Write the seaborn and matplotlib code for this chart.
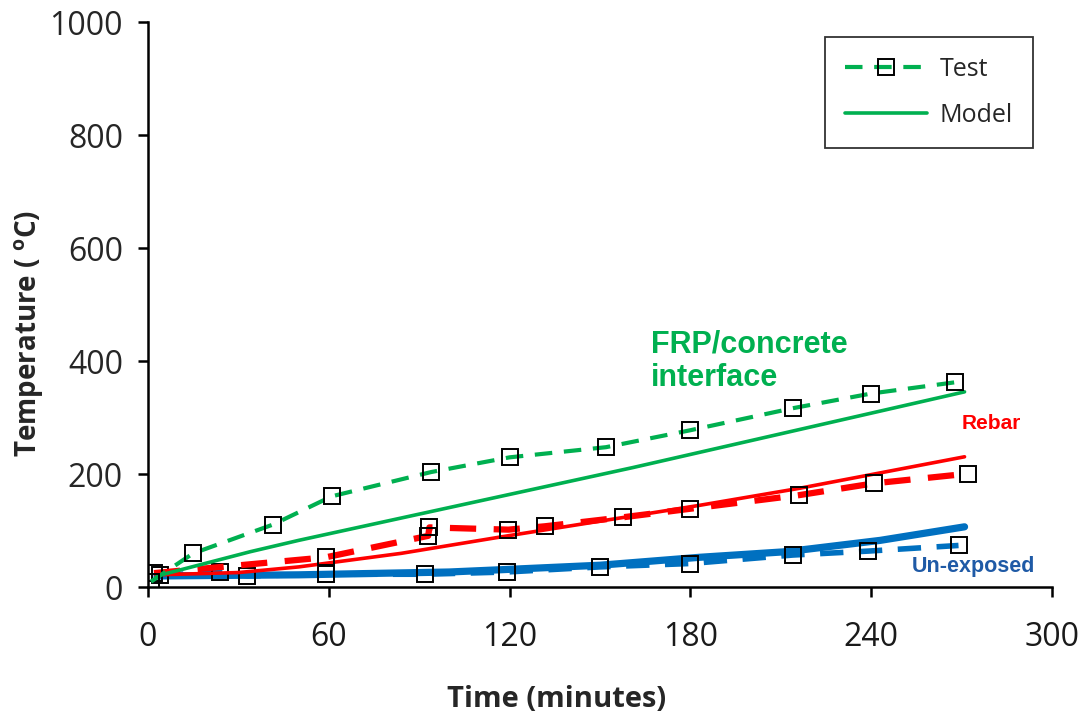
import matplotlib
matplotlib.use("Agg")
import matplotlib.pyplot as plt
import seaborn as sns

# ── Data ──────────────────────────────────────
frp_test_t = [1, 15, 41.5, 61, 94, 120, 152, 180, 214, 240, 268]
frp_test_T = [10, 60, 111, 161, 204, 230, 248, 278, 317, 343, 363]
frp_model_t = [3, 34, 50, 161, 271]
frp_model_T = [20, 63, 83, 212, 346]

rebar_test_t = [2, 59, 93, 93.4, 119.6, 131.8, 157.8, 180, 216, 241, 272]
rebar_test_T = [25, 53, 91, 106, 102, 108, 124, 139, 163, 184, 201]
rebar_model_t = [3, 30, 50, 84, 117, 150, 183, 216, 271]
rebar_model_T = [22, 26, 36, 60, 89, 117, 145, 175, 231]

unexp_test_t = [4, 24, 33, 59, 92, 119, 150, 180, 214, 239, 269]
unexp_test_T = [21, 27, 20, 23, 23, 27, 36, 42, 57, 64, 74]
unexp_model_t = [3, 50, 100, 117, 150, 183, 212, 243, 271]
unexp_model_T = [20, 22, 27, 31, 39, 53, 63, 83, 107]

x_ticks = [0, 60, 120, 180, 240, 300]
y_ticks = [0, 200, 400, 600, 800, 1000]

GREEN = "#00B050"
RED = "#FF0000"
BLUE = "#0070C0"

# ── Style ─────────────────────────────────────
sns.set_style("ticks")
plt.rcParams["font.family"] = ["Open Sans", "DejaVu Sans"]

fig = plt.figure(figsize=(10.8, 7.25), dpi=100)
ax = fig.add_axes([0.137, 0.190, 0.837, 0.779])

test_kw = dict(marker="s", markersize=11, markerfacecolor="none",
               markeredgecolor="black", markeredgewidth=1.4,
               linestyle="--", estimator=None, sort=False, ax=ax)
model_kw = dict(linestyle="-", estimator=None, sort=False, ax=ax)

# un-exposed
sns.lineplot(x=unexp_model_t, y=unexp_model_T, color=BLUE, linewidth=5.2, **model_kw)
sns.lineplot(x=unexp_test_t, y=unexp_test_T, color=BLUE, linewidth=4, **test_kw)
# rebar
sns.lineplot(x=rebar_model_t, y=rebar_model_T, color=RED, linewidth=2.6, **model_kw)
sns.lineplot(x=rebar_test_t, y=rebar_test_T, color=RED, linewidth=4.5, **test_kw)
# FRP/concrete interface
sns.lineplot(x=frp_model_t, y=frp_model_T, color=GREEN, linewidth=2.6,
             label="Model", **model_kw)
sns.lineplot(x=frp_test_t, y=frp_test_T, color=GREEN, linewidth=3,
             label="Test", **test_kw)

for line in ax.get_lines():
    if line.get_linestyle() == "--":
        line.set_dashes([4.2, 2.8])

# ── Axes ──────────────────────────────────────
ax.set_xlim(0, 300)
ax.set_ylim(0, 1000)
ax.set_xticks(x_ticks)
ax.set_yticks(y_ticks)
sns.despine(ax=ax)
for side in ("left", "bottom"):
    ax.spines[side].set_linewidth(1.8)
    ax.spines[side].set_color("black")
ax.tick_params(axis="both", direction="out", length=7, width=1.8, colors="black")
ax.tick_params(axis="x", pad=17, labelsize=23, labelcolor="#1a1a1a")
ax.tick_params(axis="y", pad=11, labelsize=23, labelcolor="#262626")

ax.set_xlabel("Time (minutes)", fontsize=21, fontweight="bold")
ax.set_ylabel(r"Temperature ( $\mathregular{^{o}}$C)", fontsize=20,
              fontweight="bold")
ax.xaxis.set_label_coords(0.452, -0.173)
ax.yaxis.set_label_coords(-0.113, 0.45)

# ── Annotations ───────────────────────────────
ax.text(167, 457, "FRP/concrete\ninterface", color=GREEN, fontsize=22,
        fontweight="bold", family="Liberation Sans", va="top", ha="left",
        linespacing=1.15)
ax.text(270, 290, "Rebar", color=RED, fontsize=15, fontweight="bold",
        family="Liberation Sans", va="center", ha="left")
ax.text(253.5, 36, "Un-exposed", color="#1F5AA6", fontsize=15.5, fontweight="bold",
        family="Liberation Sans", va="center", ha="left")

# ── Legend ────────────────────────────────────
handles, labels = ax.get_legend_handles_labels()
order = [labels.index("Test"), labels.index("Model")]
leg = ax.legend([handles[i] for i in order], [labels[i] for i in order],
                loc="upper right", bbox_to_anchor=(0.979, 0.975),
                borderaxespad=0, fontsize=18, handlelength=3.3,
                labelspacing=0.85, borderpad=0.8, handletextpad=0.5,
                frameon=True, fancybox=False, numpoints=1)
leg.get_frame().set_edgecolor("black")
leg.get_frame().set_linewidth(1.3)

fig.savefig("out.png", dpi=100)
